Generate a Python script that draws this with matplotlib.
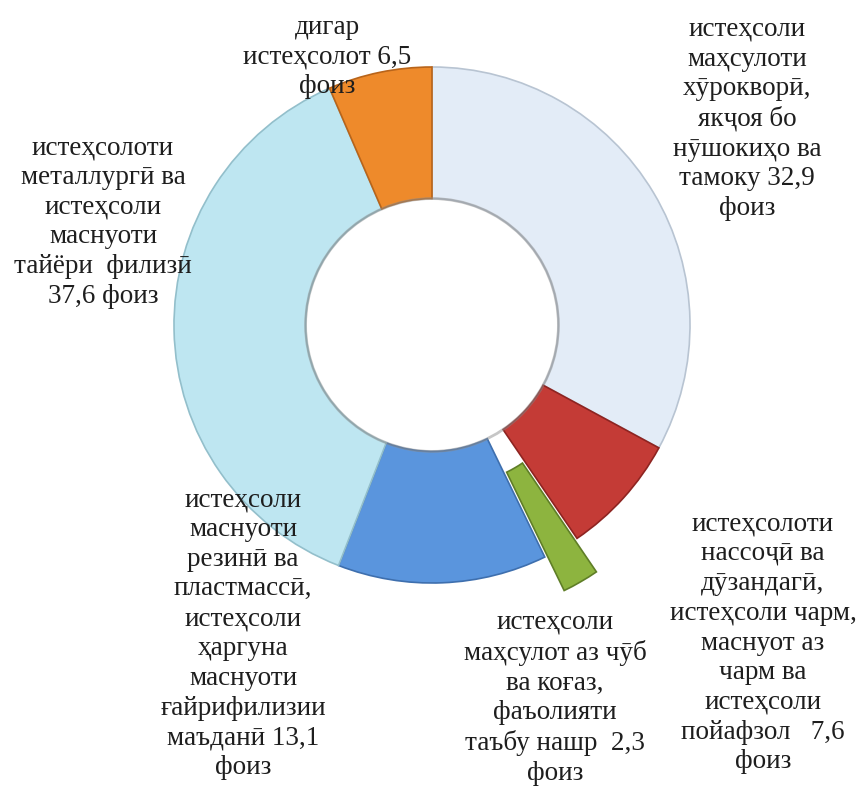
import matplotlib.pyplot as plt
from matplotlib.patches import Circle

# slice values, clockwise from the top
values = [32.9, 7.6, 2.3, 13.1, 37.6, 6.5]
colors = ['#E3ECF7', '#C43B36', '#8DB43F', '#5A95DD', '#BEE6F1', '#EE8A2B']
edges = ['#B8C4D2', '#8E2421', '#5F7E27', '#3E6FAE', '#93BFCB', '#B8641A']
explode = [0, 0, 0.15, 0, 0, 0]

labels = [
    'истеҳсоли\nмаҳсулоти\nхӯрокворӣ,\nякҷоя бо\nнӯшокиҳо ва\nтамоку 32,9\nфоиз',
    'истеҳсолоти\nнассоҷӣ ва\nдӯзандагӣ,\nистеҳсоли чарм,\nмаснуот аз\nчарм ва\nистеҳсоли\nпойафзол   7,6\nфоиз',
    'истеҳсоли\nмаҳсулот аз чӯб\nва коғаз,\nфаъолияти\nтаъбу нашр  2,3\nфоиз',
    'истеҳсоли\nмаснуоти\nрезинӣ ва\nпластмассӣ,\nистеҳсоли\nҳаргуна\nмаснуоти\nғайрифилизии\nмаъданӣ 13,1\nфоиз',
    'истеҳсолоти\nметаллургӣ ва\nистеҳсоли\nмаснуоти\nтайёри  филизӣ\n37,6 фоиз',
    'дигар\nистеҳсолот 6,5\nфоиз',
]
# label centres in pixels (x, y from top)
label_pos = [(747, 119), (763, 643), (555, 698), (243, 634), (103, 222), (327, 57)]

W, H = 861, 787
cx, cy, R = 432, 325, 258

fig = plt.figure(figsize=(W / 100, H / 100), dpi=100)
ax = fig.add_axes([0, 0, 1, 1])

wedges, _ = ax.pie(values, colors=colors, explode=explode, startangle=90,
                   counterclock=False, radius=1,
                   wedgeprops=dict(width=0.51, linewidth=1.2))
for w, ec in zip(wedges, edges):
    w.set_edgecolor(ec)

# soft shadow round the hole
ax.add_patch(Circle((0, 0), 0.49, fill=False, edgecolor='#8f8f8f', lw=2.0, alpha=0.5))

ax.set_aspect('auto')
ax.set_xlim(-cx / R, (W - cx) / R)
ax.set_ylim(-(H - cy) / R, cy / R)
ax.axis('off')

for text, (x, y) in zip(labels, label_pos):
    fig.text(x / W, 1 - y / H, text, ha='center', va='center',
             fontsize=19.5, linespacing=1.25, color='#1e1e1e',
             family=['Liberation Serif', 'DejaVu Serif'])

fig.savefig('out.png', dpi=100, facecolor='white')
